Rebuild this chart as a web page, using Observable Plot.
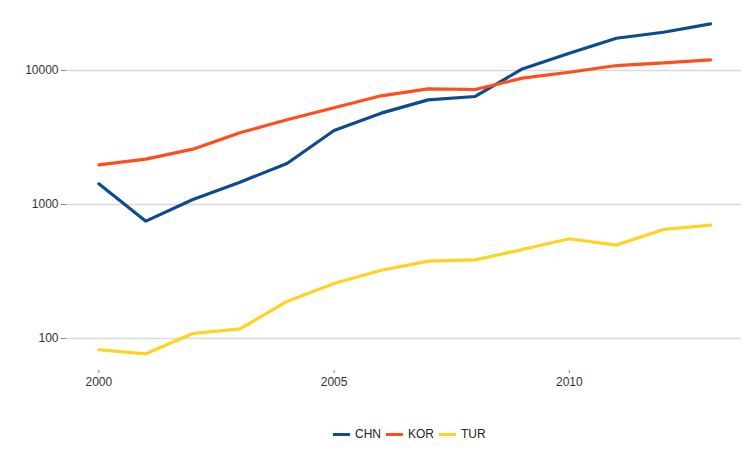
<!DOCTYPE html>
<html>
<head>
<meta charset="utf-8">
<script src="https://cdn.jsdelivr.net/npm/d3@7"></script>
<script src="https://cdn.jsdelivr.net/npm/@observablehq/plot@0.6"></script>
<style>
  body { margin: 0; background: #fff; font-family: "Liberation Sans", Arial, sans-serif; }
  #legend { display: flex; align-items: center; font-size: 12px; color: #222; margin-left: 333px; margin-top: 6px; height: 16px; }
  #legend .item { display: flex; align-items: center; margin-right: 5px; }
  #legend .sw { width: 17px; height: 3px; margin-right: 5px; }
</style>
</head>
<body>
<div id="chart"></div>
<div id="legend"></div>
<script>
const years = [2000,2001,2002,2003,2004,2005,2006,2007,2008,2009,2010,2011,2012,2013];
const CHN = [1426,751,1089,1467,2023,3567,4805,6040,6400,10280,13460,17400,19300,22300];
const KOR = [1977,2180,2588,3430,4285,5270,6475,7300,7215,8770,9710,10890,11400,12020];
const TUR = [82.4,76.9,109,118,189,257,323,378,386,461,555,498,651,701];
const seriesNames = ["CHN","KOR","TUR"];
const seriesColors = ["#0d4c8b","#ff4e1b","#ffd31f"];
const yTicks = [100,1000,10000];
const xTicks = [2000,2005,2010];

const valuesBy = {CHN, KOR, TUR};
const data = seriesNames.flatMap(s => years.map((y,i) => ({series: s, year: y, value: valuesBy[s][i]})));

const chart = Plot.plot({
  width: 749,
  height: 420,
  marginLeft: 66,
  marginRight: 8,
  marginTop: 10,
  marginBottom: 50,
  style: {fontFamily: '"Liberation Sans", Arial, sans-serif', fontSize: "12px", color: "#333"},
  x: {domain: [2000, 2013], range: [98.3, 710], ticks: xTicks, tickFormat: d => String(d), tickSize: 3, tickPadding: 5, label: null},
  y: {type: "log", domain: [100, 10000], range: [338, 70], ticks: yTicks, tickFormat: d => String(d), tickSize: 5, tickPadding: 3, label: null},
  color: {domain: seriesNames, range: seriesColors},
  marks: [
    Plot.ruleY(yTicks, {stroke: "#d9d9d9", strokeWidth: 1.3}),
    Plot.axisY({ticks: yTicks, tickFormat: d => String(d), tickSize: 5, tickPadding: 3, stroke: "#888", label: null}),
    Plot.axisX({ticks: xTicks, tickFormat: d => String(d), tickSize: 3, tickPadding: 4, stroke: "#888", label: null}),
    Plot.line(data, {x: "year", y: "value", z: "series", stroke: "series", strokeWidth: 3.2, strokeLinejoin: "miter"})
  ]
});
document.getElementById("chart").appendChild(chart);

const legend = document.getElementById("legend");
seriesNames.forEach((s, i) => {
  const item = document.createElement("div");
  item.className = "item";
  const sw = document.createElement("div");
  sw.className = "sw";
  sw.style.background = seriesColors[i];
  const t = document.createElement("span");
  t.textContent = s;
  item.appendChild(sw);
  item.appendChild(t);
  legend.appendChild(item);
});
</script>
</body>
</html>
